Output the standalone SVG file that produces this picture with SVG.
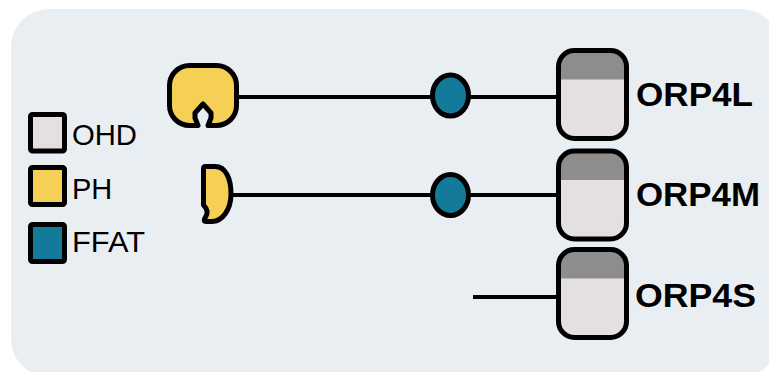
<svg xmlns="http://www.w3.org/2000/svg" width="769" height="372" viewBox="0 0 769 372">
  <style>
    .ohd { fill: #e4e0e1; }
    .ohd-cap { fill: #8d8d8d; }
    .outline { fill: none; stroke: #000; stroke-width: 5; }
    .ph { fill: #f6cf57; stroke: #000; stroke-width: 5; stroke-linejoin: round; }
    .ffat { fill: #137b99; stroke: #000; stroke-width: 5; }
    .link { stroke: #000; stroke-width: 4; fill: none; }
    .label { font-family: "Liberation Sans", Arial, sans-serif; font-weight: bold; font-size: 33px; fill: #000; }
    .legend-text { font-family: "Liberation Sans", Arial, sans-serif; font-size: 29px; fill: #000; }
    .key { stroke: #000; stroke-width: 5; }
  </style>
  <defs>
    <clipPath id="ohdClip">
      <rect x="0" y="0" width="68" height="88" rx="16"/>
    </clipPath>
    <!-- OHD domain: light body with darker cap, black rounded outline -->
    <g id="ohdShape">
      <g clip-path="url(#ohdClip)">
        <rect class="ohd" x="0" y="0" width="68" height="88"/>
        <rect class="ohd-cap" x="0" y="0" width="68" height="29"/>
      </g>
      <rect class="outline" x="0" y="0" width="68" height="88" rx="16"/>
    </g>
  </defs>

  <!-- panel background -->
  <rect x="11" y="9" width="768" height="368" rx="38" fill="#e9eef2"/>

  <!-- connectors -->
  <g id="connectors">
    <line class="link" x1="236" y1="97" x2="559" y2="97"/>
    <line class="link" x1="230" y1="195" x2="559" y2="195"/>
    <line class="link" x1="473" y1="297" x2="559" y2="297"/>
  </g>

  <!-- legend -->
  <g id="legend">
    <rect class="key" x="30.5" y="114.5" width="34" height="36.5" rx="2" fill="#e4e0e1"/>
    <text class="legend-text" x="72" y="145" textLength="65" lengthAdjust="spacingAndGlyphs">OHD</text>
    <rect class="key" x="30.5" y="167.5" width="34" height="37" rx="2" fill="#f6cf57"/>
    <text class="legend-text" x="72" y="199">PH</text>
    <rect class="key" x="30.5" y="224.5" width="34" height="37" rx="2" fill="#137b99"/>
    <text class="legend-text" x="72" y="252" textLength="73" lengthAdjust="spacingAndGlyphs">FFAT</text>
  </g>

  <!-- ORP4L: PH, FFAT, OHD -->
  <g id="orp4l">
    <path class="ph" d="M189.5 65.5 H216.5 A20 20 0 0 1 236.5 85.5 V105.5 A20 20 0 0 1 216.5 125.5 H208 L211 118 V113 L203 104 L195 113 V118 L198 125.5 H189.5 A20 20 0 0 1 169.5 105.5 V85.5 A20 20 0 0 1 189.5 65.5 Z"/>
    <ellipse class="ffat" cx="450.5" cy="95.5" rx="18" ry="20.5"/>
    <use href="#ohdShape" x="558.5" y="50.5"/>
    <text class="label" x="636" y="106" textLength="117" lengthAdjust="spacingAndGlyphs">ORP4L</text>
  </g>

  <!-- ORP4M: truncated PH, FFAT, OHD -->
  <g id="orp4m">
    <path class="ph" d="M203.5 168.5 Q203.5 166.5 205.5 166.5 H215 C226 166.5 231 179 231 194 C231 210 222 221.5 212 221.5 H206 Q203 221.5 205 218 C208 214 208.5 210 203.5 205 Z"/>
    <ellipse class="ffat" cx="450.5" cy="195" rx="18" ry="20.5"/>
    <use href="#ohdShape" x="558.5" y="151"/>
    <text class="label" x="636" y="206" textLength="124" lengthAdjust="spacingAndGlyphs">ORP4M</text>
  </g>

  <!-- ORP4S: OHD only -->
  <g id="orp4s">
    <use href="#ohdShape" x="558.5" y="249.5"/>
    <text class="label" x="635" y="307" textLength="121" lengthAdjust="spacingAndGlyphs">ORP4S</text>
  </g>
</svg>
